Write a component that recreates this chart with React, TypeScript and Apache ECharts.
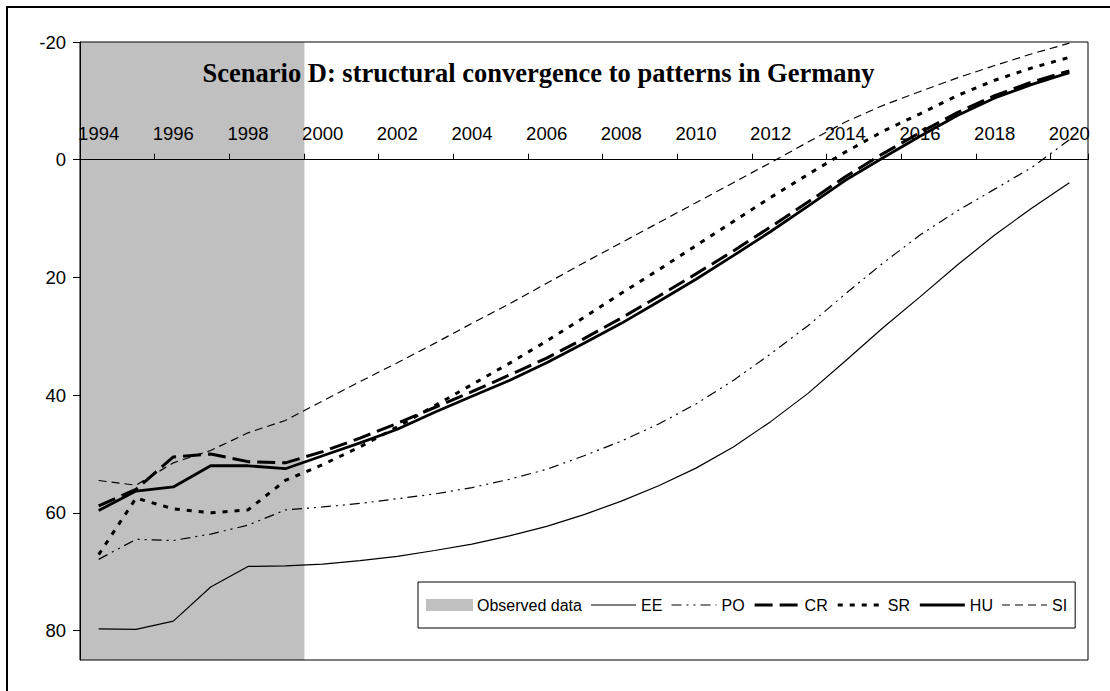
import React, { useEffect, useRef } from "react";
import * as echarts from "echarts";

const years = [
  "1994", "1995", "1996", "1997", "1998", "1999", "2000", "2001", "2002",
  "2003", "2004", "2005", "2006", "2007", "2008", "2009", "2010", "2011",
  "2012", "2013", "2014", "2015", "2016", "2017", "2018", "2019", "2020",
];

// 1 = year with observed data (shaded band)
const observed = [1, 1, 1, 1, 1, 1, null, null, null, null, null, null, null, null, null, null, null, null, null, null, null, null, null, null, null, null, null];

const EE = [79.7, 79.8, 78.4, 72.6, 69.1, 69.0, 68.7, 68.1, 67.4, 66.4, 65.3, 63.9, 62.3, 60.3, 58.0, 55.4, 52.4, 48.8, 44.5, 39.7, 34.2, 28.6, 23.3, 17.9, 12.8, 8.2, 3.9];
const PO = [67.9, 64.5, 64.7, 63.6, 62.1, 59.5, 59.0, 58.4, 57.6, 56.8, 55.7, 54.3, 52.6, 50.3, 47.8, 44.9, 41.5, 37.5, 33.0, 28.2, 22.8, 17.6, 12.8, 8.7, 5.0, 1.3, -3.4];
const CR = [58.8, 56.0, 50.5, 50.0, 51.3, 51.5, 49.6, 47.3, 44.8, 42.1, 39.4, 36.6, 33.7, 30.4, 26.9, 23.2, 19.4, 15.5, 11.4, 7.2, 2.9, -1.0, -4.6, -8.0, -10.9, -13.2, -15.1];
const SR = [67.1, 57.5, 59.3, 60.0, 59.5, 54.5, 51.8, 48.8, 45.4, 41.8, 38.2, 34.6, 30.8, 26.8, 22.7, 18.7, 14.6, 10.5, 6.4, 2.5, -1.3, -4.8, -7.8, -10.9, -13.5, -15.6, -17.4];
const HU = [59.6, 56.3, 55.6, 52.0, 52.0, 52.5, 50.3, 48.1, 45.8, 42.9, 40.2, 37.5, 34.5, 31.2, 27.8, 24.1, 20.3, 16.3, 12.2, 7.9, 3.5, -0.3, -4.0, -7.5, -10.5, -12.8, -14.8];
const SI = [54.5, 55.3, 51.5, 49.4, 46.4, 44.3, 41.0, 37.7, 34.5, 31.2, 27.8, 24.5, 21.0, 17.5, 14.1, 10.7, 7.3, 3.9, 0.5, -3.0, -6.4, -9.2, -11.6, -13.9, -16.0, -18.0, -19.8];

const yTicks = [-20, 0, 20, 40, 60, 80];
const Y_MIN = -20;
const Y_MAX = 85;
const titleText = "Scenario D: structural convergence to patterns in Germany";

const SANS = '"Liberation Sans", Arial, sans-serif';
const SERIF = '"Liberation Serif", "Times New Roman", serif';

const GRID_TOP = 42;
const GRID_BOTTOM = 31;
const H = 691;

const STYLES: Record<string, { width: number; type: any }> = {
  EE: { width: 1.2, type: "solid" },
  PO: { width: 1.2, type: [10, 5, 2, 5, 2, 5] },
  CR: { width: 3, type: [18, 7] },
  SR: { width: 3, type: [5, 7] },
  HU: { width: 2.8, type: "solid" },
  SI: { width: 1.2, type: [8, 5] },
};

export default function App() {
  const ref = useRef<HTMLDivElement>(null);

  useEffect(() => {
    if (!ref.current) return;
    const chart = echarts.init(ref.current, null, { renderer: "svg" });

    // distance from top of the grid down to the value 0 (the category axis sits there)
    const gridH = H - GRID_TOP - GRID_BOTTOM;
    const zeroOffset = ((0 - Y_MIN) / (Y_MAX - Y_MIN)) * gridH;

    const lineSeries = (name: string, data: number[]) => ({
      name,
      type: "line",
      data,
      yAxisIndex: 0,
      symbol: "none",
      smooth: false,
      z: 4,
      lineStyle: { color: "#000", width: STYLES[name].width, type: STYLES[name].type, cap: "butt" },
      itemStyle: { color: "rgba(0,0,0,0)" },
    });

    const legendLine = (name: string) => ({
      name,
      itemStyle: { color: "rgba(0,0,0,0)", opacity: 0 },
      lineStyle: { color: "#000", width: STYLES[name].width, type: STYLES[name].type },
    });

    chart.setOption({
      animation: false,
      backgroundColor: "#fff",
      grid: {
        left: 80,
        top: GRID_TOP,
        right: 22,
        bottom: GRID_BOTTOM,
        show: true,
        borderColor: "#000",
        borderWidth: 1,
        backgroundColor: "transparent",
        z: 5,
      },
      xAxis: {
        type: "category",
        data: years,
        position: "top",
        offset: -zeroOffset,
        boundaryGap: true,
        z: 6,
        axisLine: { show: true, onZero: false, lineStyle: { color: "#000", width: 1 } },
        axisTick: { show: true, interval: 1, length: 6, lineStyle: { color: "#000" } },
        axisLabel: {
          interval: 1,
          margin: 17,
          color: "#000",
          fontFamily: SANS,
          fontSize: 18.5,
        },
        splitLine: { show: false },
      },
      yAxis: [
        {
          type: "value",
          inverse: true,
          min: Y_MIN,
          max: Y_MAX,
          interval: 20,
          z: 6,
          axisLine: { show: true, lineStyle: { color: "#000", width: 1 } },
          axisTick: { show: true, length: 7, customValues: yTicks, lineStyle: { color: "#000" } },
          axisLabel: {
            customValues: yTicks,
            margin: 14,
            color: "#000",
            fontFamily: SANS,
            fontSize: 18.5,
          },
          splitLine: { show: false },
        },
        {
          type: "value",
          show: false,
          min: 0,
          max: 1,
          splitLine: { show: false },
        },
      ],
      legend: {
        left: 418,
        top: 582,
        orient: "horizontal",
        backgroundColor: "#fff",
        borderColor: "#000",
        borderWidth: 1,
        padding: [15, 8, 15, 8],
        itemWidth: 45,
        itemHeight: 10,
        itemGap: 8.5,
        textStyle: { color: "#000", fontFamily: SANS, fontSize: 16 },
        data: [
          { name: "Observed data", icon: "rect", itemStyle: { color: "#C0C0C0" } },
          legendLine("EE"),
          legendLine("PO"),
          legendLine("CR"),
          legendLine("SR"),
          legendLine("HU"),
          legendLine("SI"),
        ],
        selectedMode: false,
      },
      graphic: [
        {
          type: "rect",
          z: 100,
          silent: true,
          shape: { x: 7, y: 7, width: 1300, height: 900 },
          style: { fill: "none", stroke: "#000", lineWidth: 2 },
        },
        {
          type: "text",
          z: 100,
          x: 538.5,
          y: 73,
          style: {
            text: titleText,
            fill: "#000",
            font: `bold 26.5px ${SERIF}`,
            textAlign: "center",
            textVerticalAlign: "middle",
          },
        },
      ],
      series: [
        {
          name: "Observed data",
          type: "bar",
          data: observed,
          yAxisIndex: 1,
          barWidth: "102%",
          barCategoryGap: "0%",
          z: 1,
          silent: true,
          itemStyle: { color: "#C0C0C0", borderColor: "#C0C0C0", borderWidth: 0.6 },
        },
        lineSeries("EE", EE),
        lineSeries("PO", PO),
        lineSeries("CR", CR),
        lineSeries("SR", SR),
        lineSeries("HU", HU),
        lineSeries("SI", SI),
      ],
    });

    return () => chart.dispose();
  }, []);

  return (
    <div
      ref={ref}
      style={{ position: "absolute", left: 0, top: 0, width: 1110, height: 691 }}
    />
  );
}
